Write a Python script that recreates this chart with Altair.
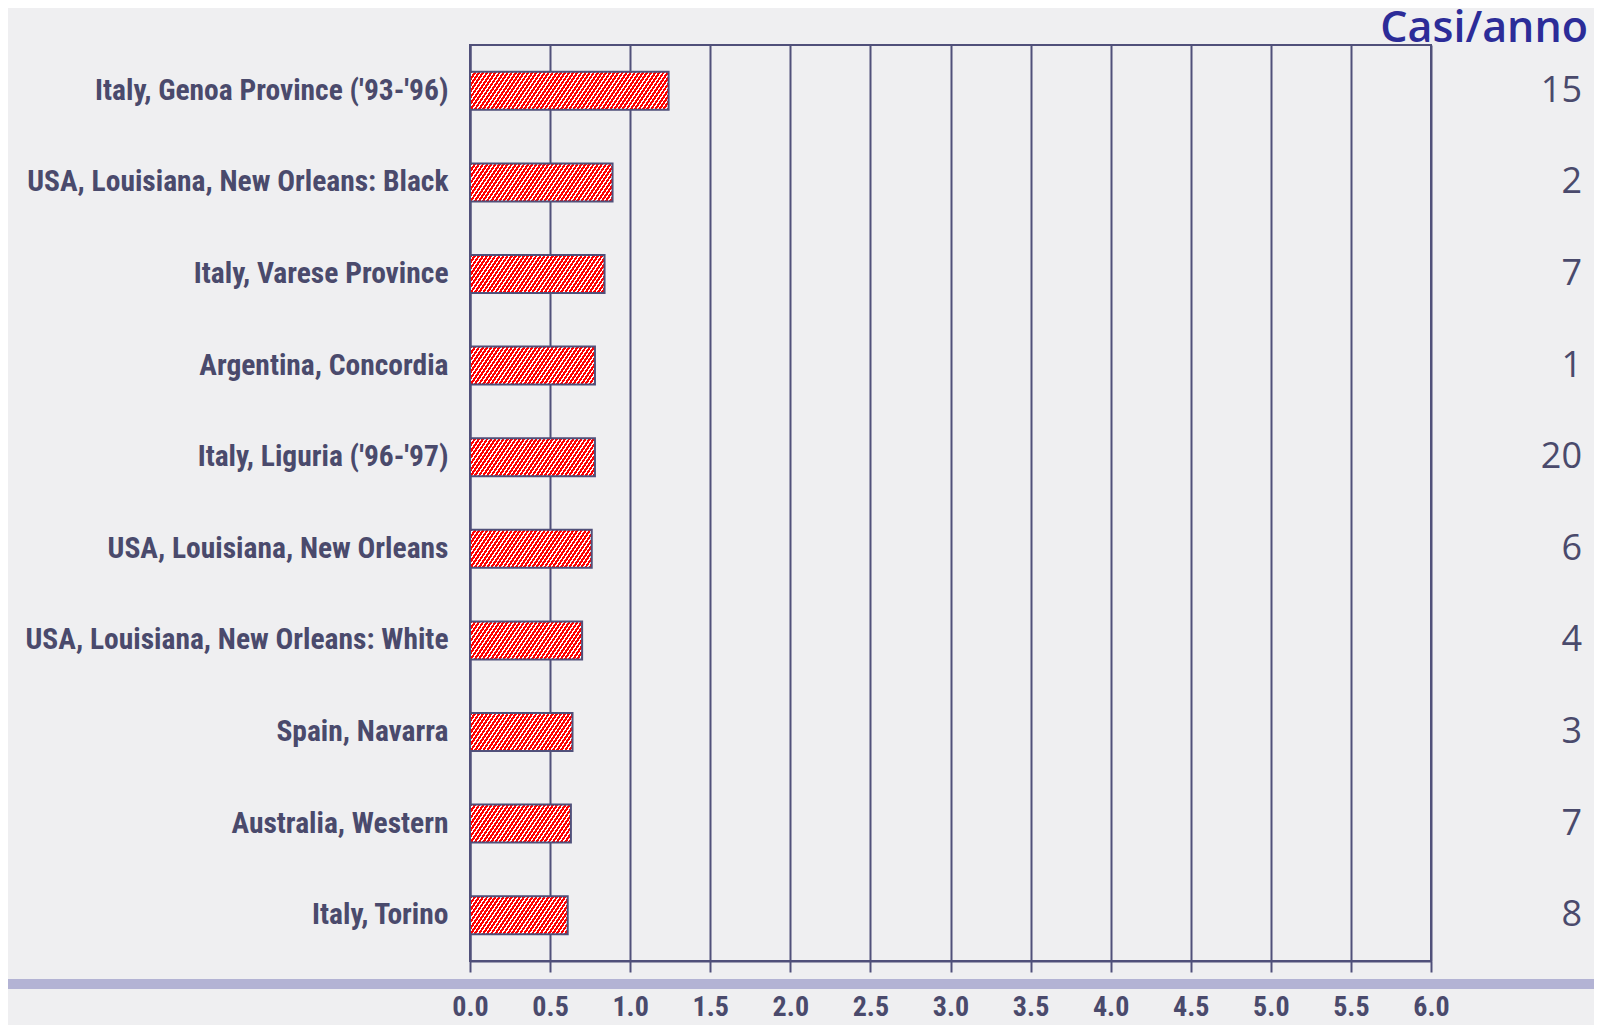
import altair as alt
import pandas as pd

regions = [
    "Italy, Genoa Province ('93-'96)",
    "USA, Louisiana, New Orleans: Black",
    "Italy, Varese Province",
    "Argentina, Concordia",
    "Italy, Liguria ('96-'97)",
    "USA, Louisiana, New Orleans",
    "USA, Louisiana, New Orleans: White",
    "Spain, Navarra",
    "Australia, Western",
    "Italy, Torino",
]
rates = [1.24, 0.89, 0.84, 0.78, 0.78, 0.76, 0.70, 0.64, 0.63, 0.61]
cases = [15, 2, 7, 1, 20, 6, 4, 3, 7, 8]
x_ticks = [0.0, 0.5, 1.0, 1.5, 2.0, 2.5, 3.0, 3.5, 4.0, 4.5, 5.0, 5.5, 6.0]
right_title = "Casi/anno"

W, H = 961, 916
SLATE = "#50507a"
TEXT = "#4a4a6c"
RED = "#ff0000"
WHITE = "#ffffff"
LABEL_FONT = "'Roboto Condensed', 'DejaVu Sans Condensed', 'Liberation Sans Narrow', Roboto, sans-serif"
NUM_FONT = "Open Sans"

df = pd.DataFrame({"region": regions, "rate": rates, "cases": cases})

PADI = 0.585
y_scale = alt.Scale(domain=regions, paddingInner=PADI, paddingOuter=PADI / 2)
x_scale = alt.Scale(domain=[0, 6], nice=False)


def stripe_fill(value, period=4.1, red_frac=0.62, k=1.5):
    # "/" stripes: isolines of k*X + Y in pixel space
    w = value * W / 6.0
    h = (H / len(regions)) * (1 - PADI)
    ga, gb = k * w, h
    r = gb / ga
    a = (1 + r) / (1 + r * r)
    b = a * r
    n = (ga + gb) / (k * period)
    stops = []
    i = 0
    while i < n:
        o0 = i / n
        o1 = min((i + red_frac) / n, 1.0)
        o2 = min((i + 1) / n, 1.0)
        stops += [
            alt.GradientStop(offset=o0, color=RED),
            alt.GradientStop(offset=o1, color=RED),
            alt.GradientStop(offset=o1, color=WHITE),
            alt.GradientStop(offset=o2, color=WHITE),
        ]
        i += 1
    return alt.LinearGradient(gradient="linear", stops=stops, x1=0, y1=0, x2=a, y2=b)


base = alt.Chart(df)

x_axis = alt.Axis(
    values=x_ticks,
    format=".1f",
    grid=True,
    gridColor=SLATE,
    gridWidth=2,
    gridOpacity=1,
    domainColor=SLATE,
    domainWidth=2,
    tickColor=SLATE,
    tickWidth=2,
    tickSize=11,
    labelFont=LABEL_FONT,
    labelFontSize=28,
    labelFontWeight="bold",
    labelColor=TEXT,
    labelPadding=21,
    labelFlush=False,
)
y_axis = alt.Axis(
    ticks=False,
    grid=False,
    domainColor=SLATE,
    domainWidth=2,
    labelFont=LABEL_FONT,
    labelFontSize=29.5,
    labelFontWeight="bold",
    labelColor=TEXT,
    labelPadding=22,
    labelLimit=600,
)

axis_layer = base.mark_bar(opacity=0).encode(
    x=alt.X("rate:Q", scale=x_scale, title=None, axis=x_axis),
    y=alt.Y("region:N", scale=y_scale, title=None, axis=y_axis),
)

wave = base.mark_rule(color="#b3b3d4", strokeWidth=10, strokeCap="round").encode(
    x=alt.value(-470), x2=alt.value(1140), y=alt.value(H + 23)
)

bar_layers = []
for reg, val in zip(regions, rates):
    bar_layers.append(
        base.transform_filter(alt.datum.region == reg)
        .mark_bar(fill=stripe_fill(val), stroke=SLATE, strokeWidth=2)
        .encode(
            x=alt.X("rate:Q", scale=x_scale, title=None, axis=x_axis),
            y=alt.Y("region:N", scale=y_scale, title=None, axis=y_axis),
        )
    )

nums = base.mark_text(
    align="right", baseline="middle", font=NUM_FONT, fontSize=36, color=TEXT
).encode(
    x=alt.value(1112),
    y=alt.Y("region:N", scale=y_scale, title=None, axis=y_axis),
    text="cases:N",
)

title_df = pd.DataFrame({"t": [right_title]})
title_txt = alt.Chart(title_df).mark_text(
    align="right", baseline="alphabetic", font=NUM_FONT, fontSize=43,
    fontWeight=600, color="#2c2c98"
).encode(x=alt.value(1118), y=alt.value(-3), text="t:N")

chart = alt.layer(axis_layer, wave, *bar_layers, nums, title_txt).properties(
    width=W,
    height=H,
    autosize=alt.AutoSizeParams(type="none"),
    padding={"left": 462, "top": 37, "right": 163, "bottom": 64},
    background="#efeff1",
).configure_view(stroke=SLATE, strokeWidth=2)

chart.save("out.html", embed_options={"renderer": "svg", "actions": False})
